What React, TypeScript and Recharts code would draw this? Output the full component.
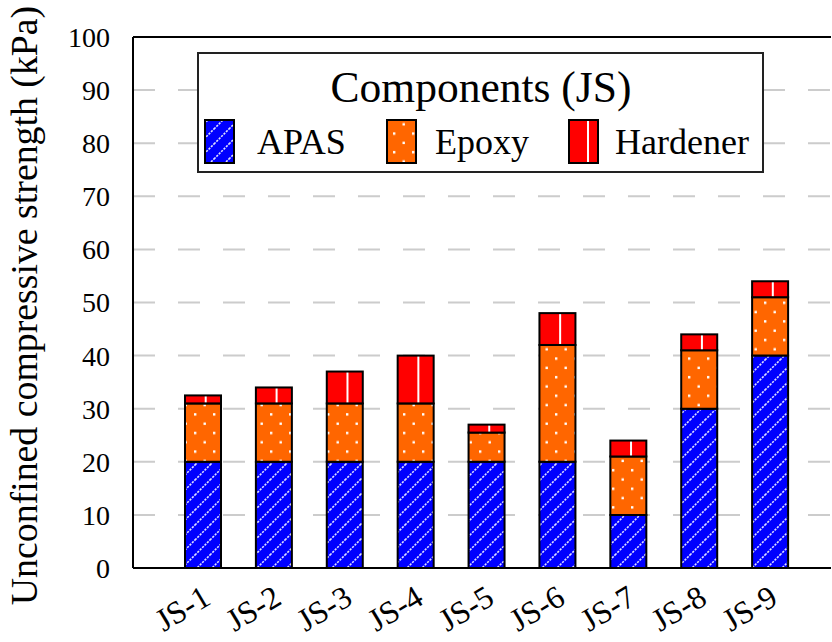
import React from 'react';
import { BarChart, Bar, XAxis, YAxis, CartesianGrid, ReferenceLine } from 'recharts';

const categories = ['JS-1', 'JS-2', 'JS-3', 'JS-4', 'JS-5', 'JS-6', 'JS-7', 'JS-8', 'JS-9'];
const apas = [20, 20, 20, 20, 20, 20, 10, 30, 40];
const epoxy = [11, 11, 11, 11, 5.5, 22, 11, 11, 11];
const hardener = [1.5, 3, 6, 9, 1.5, 6, 3, 3, 3];
const yTicks = [0, 10, 20, 30, 40, 50, 60, 70, 80, 90, 100];

const legendItems = [
  { label: 'APAS', fill: 'url(#hatchApas)' },
  { label: 'Epoxy', fill: 'url(#hatchEpoxy)' },
  { label: 'Hardener', fill: '#ff0000' },
];

const data = categories.map((name, i) => ({
  name,
  apas: apas[i],
  epoxy: epoxy[i],
  hardener: hardener[i],
}));

const serif = 'Liberation Serif, Times New Roman, Times, serif';

const HardenerShape = (props: any) => {
  const { x, y, width, height } = props;
  if (!height || height <= 0) return null;
  const lx = x + width * 0.575;
  return (
    <g>
      <rect x={x} y={y} width={width} height={height} fill="#ff0000" />
      <line x1={lx} x2={lx} y1={y} y2={y + height} stroke="#fff" strokeWidth={2} />
      <rect x={x} y={y} width={width} height={height} fill="none" stroke="#000" strokeWidth={2} />
    </g>
  );
};

const XTick = (props: any) => {
  const { x, y, payload } = props;
  return (
    <g transform={`translate(${x},${y})`}>
      <text
        x={9}
        y={35}
        textAnchor="end"
        transform="rotate(-31 9 35)"
        style={{ fontFamily: serif, fontSize: 32 }}
        fill="#000"
      >
        {payload.value}
      </text>
    </g>
  );
};

export default function App() {
  return (
    <div style={{ position: 'absolute', left: 0, top: 0, width: 832, height: 642, background: '#fff', fontFamily: serif }}>
      <BarChart
        width={832}
        height={642}
        data={data}
        margin={{ top: 37, right: 1, left: 0, bottom: 0 }}
        barSize={36}
        style={{ fontFamily: serif }}
      >
        <defs>
          <pattern id="hatchApas" patternUnits="userSpaceOnUse" width={15} height={15}>
            <rect x={0} y={0} width={15} height={15} fill="#0000ff" />
            <line x1={0} y1={15} x2={15} y2={0} stroke="#e0e0ff" strokeWidth={1.6} strokeDasharray="2.2 1.2" />
            <line x1={-2} y1={2} x2={2} y2={-2} stroke="#e0e0ff" strokeWidth={1.6} />
            <line x1={13} y1={17} x2={17} y2={13} stroke="#e0e0ff" strokeWidth={1.6} />
          </pattern>
          <pattern id="hatchEpoxy" patternUnits="userSpaceOnUse" width={19} height={18.6}>
            <rect x={0} y={0} width={19} height={18.6} fill="#ff6600" />
            <rect x={4} y={4} width={2.4} height={2.4} fill="#fff" />
            <rect x={13.5} y={13.3} width={2.4} height={2.4} fill="#fff" />
          </pattern>
        </defs>
        <CartesianGrid
          vertical={false}
          stroke="#cccccc"
          strokeWidth={2}
          strokeDasharray="22 23"
        />
        <XAxis
          dataKey="name"
          interval={0}
          height={74}
          padding={{ left: 35, right: 25 }}
          axisLine={{ stroke: '#000', strokeWidth: 2 }}
          tickLine={false}
          tickSize={0}
          tickMargin={0}
          tick={<XTick />}
        />
        <YAxis
          width={133}
          domain={[0, 100]}
          ticks={yTicks}
          interval={0}
          axisLine={{ stroke: '#000', strokeWidth: 2 }}
          tickLine={false}
          tickSize={0}
          tickMargin={23}
          tick={{ fontFamily: serif, fontSize: 28, fill: '#000', style: { fontFamily: serif } }}
          label={{
            content: (p: any) => {
              const vb = p.viewBox || {};
              const cy = (vb.y ?? 37) + (vb.height ?? 531) / 2 + 3;
              return (
                <text
                  x={37}
                  y={cy}
                  transform={`rotate(-90 37 ${cy})`}
                  textAnchor="middle"
                  style={{ fontFamily: serif, fontSize: 37.8 }}
                  fill="#000"
                >
                  Unconfined compressive strength (kPa)
                </text>
              );
            },
          }}
        />
        <ReferenceLine y={100} stroke="#000" strokeWidth={2} />
        <Bar dataKey="apas" stackId="a" fill="url(#hatchApas)" stroke="#000" strokeWidth={2} isAnimationActive={false} />
        <Bar dataKey="epoxy" stackId="a" fill="url(#hatchEpoxy)" stroke="#000" strokeWidth={2} isAnimationActive={false} />
        <Bar dataKey="hardener" stackId="a" shape={<HardenerShape />} isAnimationActive={false} />
      </BarChart>
      <div
        style={{
          position: 'absolute',
          left: 197,
          top: 52,
          width: 567,
          height: 121,
          boxSizing: 'border-box',
          border: '2px solid #222',
          background: '#fff',
        }}
      >
        <svg width={563} height={117} style={{ position: 'absolute', left: 0, top: 0, fontFamily: serif }}>
          <text x={282} y={48} textAnchor="middle" style={{ fontFamily: serif, fontSize: 43.5 }} fill="#000">
            Components (JS)
          </text>
          {legendItems.map((item, i) => {
            const px = [6, 188, 370][i];
            const tx = [58, 236, 416][i];
            return (
              <g key={item.label}>
                <rect x={px} y={66} width={29} height={43} fill={item.fill} stroke="#000" strokeWidth={2} />
                {item.label === 'Hardener' && (
                  <line x1={px + 19} x2={px + 19} y1={67} y2={108} stroke="#fff" strokeWidth={2} />
                )}
                <text x={tx} y={100} style={{ fontFamily: serif, fontSize: 36 }} fill="#000">
                  {item.label}
                </text>
              </g>
            );
          })}
        </svg>
      </div>
    </div>
  );
}
